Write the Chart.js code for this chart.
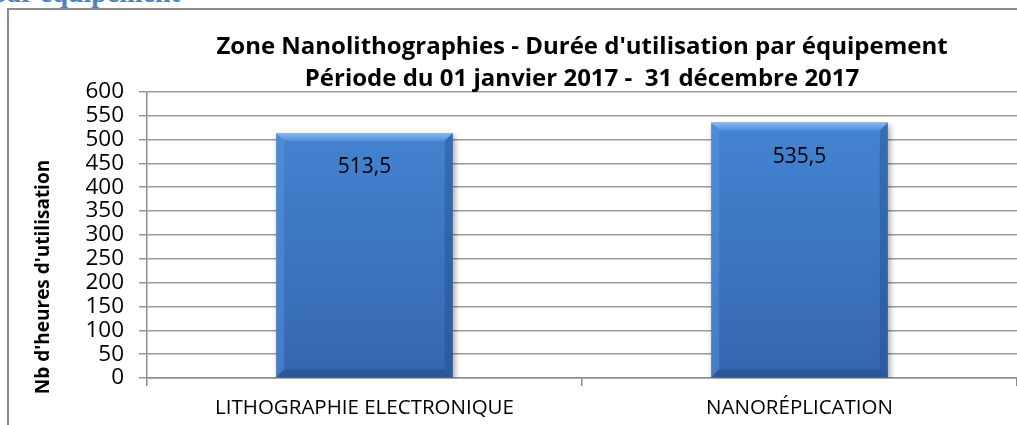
<!DOCTYPE html>
<html>
<head>
<meta charset="utf-8">
<script src="https://cdn.jsdelivr.net/npm/chart.js@4.4.1/dist/chart.umd.min.js"></script>
<style>
  html, body { margin: 0; padding: 0; background: #fff; overflow: hidden; }
  #wrap { position: relative; width: 1017px; height: 425px; }
  #frame { position: absolute; left: 7px; top: 8px; width: 2000px; height: 1000px;
           border-top: 2px solid #8c8c8c; border-left: 2px solid #8c8c8c; }
  #heading { position: absolute; right: 837px; top: -21px; white-space: nowrap;
             font: bold 28px "Liberation Serif", serif; line-height: 28px; color: #4f81bd; }
  #myChart { position: absolute; left: 0; top: 0; }
</style>
</head>
<body>
<div id="wrap">
  <div id="heading">par équipement</div>
  <div id="frame"></div>
  <canvas id="myChart" width="1017" height="425"></canvas>
</div>
<script>
// Durée d'utilisation par équipement (heures)
const categories = ['LITHOGRAPHIE ELECTRONIQUE', 'NANORÉPLICATION'];
const heures = [513.5, 535.5];
const titleLines = ["Zone Nanolithographies - Durée d'utilisation par équipement",
                    'Période du 01 janvier 2017 -  31 décembre 2017'];
const yTitle = "Nb d'heures d'utilisation";

const FONT = '"Open Sans"';

// bevel + value label drawn on top of each bar
const barDecor = {
    id: 'barDecor',
    beforeDatasetsDraw(chart) {
        const ctx = chart.ctx;
        ctx.save();
        ctx.shadowColor = 'rgba(0,0,0,0.35)';
        ctx.shadowBlur = 6;
        ctx.shadowOffsetX = 2;
        ctx.shadowOffsetY = 3;
    },
    afterDatasetsDraw(chart) {
        const ctx = chart.ctx;
        ctx.restore();
        const meta = chart.getDatasetMeta(0);
        meta.data.forEach((bar, i) => {
            const l = bar.x - bar.width / 2, r = bar.x + bar.width / 2;
            const t = bar.y, b = bar.base, e = 8;
            ctx.save();
            // top bevel
            let g = ctx.createLinearGradient(0, t, 0, t + e);
            g.addColorStop(0, '#8ab9ee');
            g.addColorStop(1, '#4f8ddb');
            ctx.fillStyle = g;
            ctx.beginPath();
            ctx.moveTo(l, t); ctx.lineTo(r, t); ctx.lineTo(r - e, t + e); ctx.lineTo(l + e, t + e);
            ctx.closePath(); ctx.fill();
            // left bevel
            ctx.fillStyle = 'rgba(90,150,225,0.45)';
            ctx.beginPath();
            ctx.moveTo(l, t); ctx.lineTo(l + e, t + e); ctx.lineTo(l + e, b - e); ctx.lineTo(l, b);
            ctx.closePath(); ctx.fill();
            // right bevel
            ctx.fillStyle = 'rgba(30,70,130,0.35)';
            ctx.beginPath();
            ctx.moveTo(r, t); ctx.lineTo(r - e, t + e); ctx.lineTo(r - e, b - e); ctx.lineTo(r, b);
            ctx.closePath(); ctx.fill();
            // bottom bevel
            ctx.fillStyle = 'rgba(25,60,115,0.35)';
            ctx.beginPath();
            ctx.moveTo(l, b); ctx.lineTo(l + e, b - e); ctx.lineTo(r - e, b - e); ctx.lineTo(r, b);
            ctx.closePath(); ctx.fill();
            // value label
            ctx.fillStyle = '#000';
            ctx.font = '21px ' + FONT;
            ctx.textAlign = 'center';
            ctx.textBaseline = 'middle';
            ctx.fillText(String(heures[i]).replace('.', ','), bar.x, t + 34);
            ctx.restore();
        });
    },
    afterDraw(chart) {
        const ctx = chart.ctx;
        ctx.save();
        ctx.translate(44, 277);
        ctx.rotate(-Math.PI / 2);
        ctx.fillStyle = '#000';
        ctx.font = 'bold 19px ' + FONT;
        ctx.textAlign = 'center';
        ctx.textBaseline = 'middle';
        ctx.fillText(yTitle, 0, 0);
        ctx.restore();
    }
};

function barFill(context) {
    const area = context.chart.chartArea;
    if (!area) return '#3b78c6';
    const g = context.chart.ctx.createLinearGradient(0, area.top, 0, area.bottom);
    g.addColorStop(0, '#4687d6');
    g.addColorStop(1, '#3566b0');
    return g;
}

const ctx = document.getElementById('myChart');
const myChart = new Chart(ctx, {
    type: 'bar',
    data: {
        labels: categories,
        datasets: [{
            data: heures,
            backgroundColor: barFill,
            borderWidth: 0,
            categoryPercentage: 1.0,
            barPercentage: 0.406
        }]
    },
    plugins: [barDecor],
    options: {
        responsive: false,
        animation: false,
        events: [],
        layout: { padding: { left: 0, right: 0, top: 0, bottom: 0 } },
        plugins: {
            legend: { display: false },
            tooltip: { enabled: false },
            title: {
                display: true,
                fullSize: false,
                text: titleLines,
                color: '#000',
                font: { family: FONT, size: 24, weight: 'bold', lineHeight: 1.33 },
                padding: { top: 31, bottom: -3 }
            }
        },
        scales: {
            x: {
                offset: true,
                grid: { display: true, drawOnChartArea: false, drawTicks: true, tickLength: 8,
                        color: '#8c8c8c', lineWidth: 1.5, offset: true },
                border: { display: true, color: '#8c8c8c', width: 1.5 },
                ticks: { color: '#000', padding: 10, font: { family: FONT, size: 20.5 } },
                afterFit(scale) { scale.height = 47; }
            },
            y: {
                min: 0,
                max: 600,
                ticks: { stepSize: 50, autoSkip: false, color: '#000', padding: 15,
                         font: { family: FONT, size: 22.5 } },
                grid: { color: '#9a9a9a', lineWidth: 1.5, tickLength: 8 },
                border: { display: true, color: '#8c8c8c', width: 1.5 },
                afterFit(scale) { scale.width = 147; }
            }
        }
    }
});
</script>
</body>
</html>
